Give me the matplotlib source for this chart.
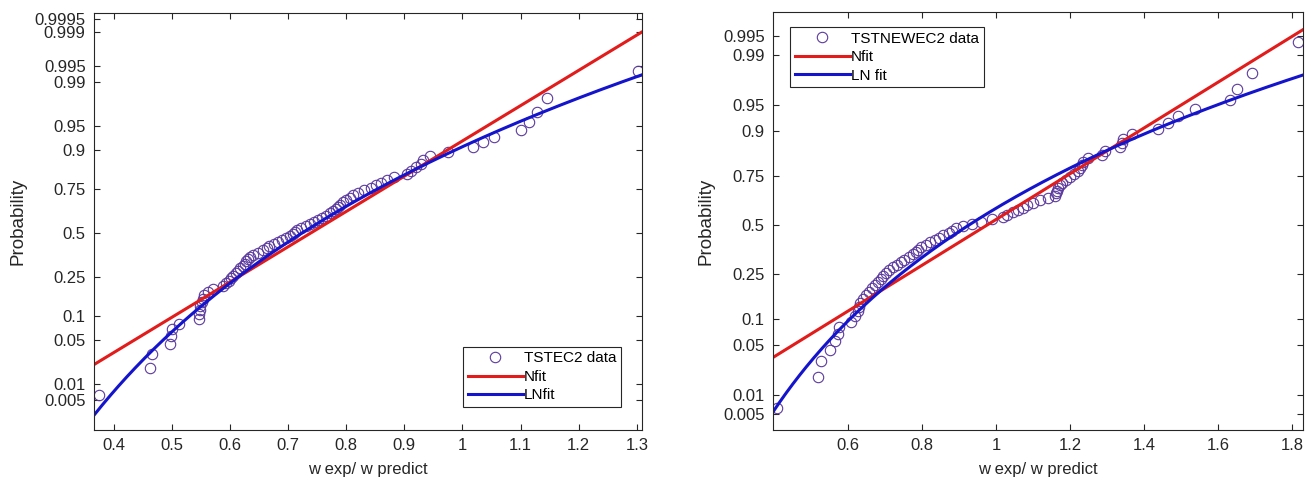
"""
정규 확률도(Normal probability plot) 두 개를 나란히 그리는 스크립트
TSTEC2 / TSTNEWEC2 데이터와 정규(Nfit), 로그정규(LN fit) 적합선을 비교합니다.
"""

from statistics import NormalDist

import numpy as np
import matplotlib
matplotlib.use('Agg')
import matplotlib.pyplot as plt


# 왼쪽 그래프: TSTEC2 데이터 (w exp / w predict, 정렬된 값)
tstec2_x = [
    0.375, 0.462, 0.466, 0.496, 0.498, 0.501, 0.512, 0.546, 0.547, 0.548,
    0.549, 0.551, 0.553, 0.556, 0.562, 0.570, 0.588, 0.594, 0.598, 0.602,
    0.606, 0.610, 0.614, 0.618, 0.622, 0.625, 0.628, 0.631, 0.634, 0.640,
    0.648, 0.656, 0.663, 0.668, 0.675, 0.683, 0.690, 0.697, 0.703, 0.708,
    0.712, 0.716, 0.722, 0.730, 0.738, 0.745, 0.752, 0.758, 0.765, 0.772,
    0.778, 0.782, 0.786, 0.790, 0.795, 0.800, 0.806, 0.812, 0.820, 0.830,
    0.842, 0.852, 0.860, 0.870, 0.882, 0.905, 0.912, 0.920, 0.928, 0.932,
    0.945, 0.975, 1.018, 1.035, 1.055, 1.100, 1.115, 1.128, 1.145, 1.302,
]
tstec2_nfit = (0.739, 0.184)      # 정규분포 (mu, sigma)
tstec2_lnfit = (-0.323, 0.243)    # 로그정규분포 (mu, sigma)

# 오른쪽 그래프: TSTNEWEC2 데이터
tstnewec2_x = [
    0.408, 0.518, 0.527, 0.552, 0.565, 0.573, 0.575, 0.608, 0.619, 0.626,
    0.630, 0.632, 0.640, 0.648, 0.657, 0.665, 0.672, 0.680, 0.688, 0.695,
    0.702, 0.712, 0.722, 0.732, 0.742, 0.752, 0.765, 0.776, 0.784, 0.790,
    0.798, 0.810, 0.822, 0.834, 0.846, 0.858, 0.872, 0.880, 0.892, 0.910,
    0.935, 0.960, 0.990, 1.019, 1.030, 1.046, 1.060, 1.073, 1.085, 1.100,
    1.120, 1.141, 1.159, 1.162, 1.165, 1.168, 1.172, 1.178, 1.190, 1.200,
    1.210, 1.222, 1.228, 1.232, 1.235, 1.250, 1.286, 1.295, 1.335, 1.341,
    1.343, 1.368, 1.438, 1.465, 1.492, 1.538, 1.632, 1.651, 1.692, 1.816,
]
tstnewec2_nfit = (0.976, 0.320)
tstnewec2_lnfit = (-0.076, 0.332)

# 축 눈금
prob_ticks = [0.005, 0.01, 0.05, 0.1, 0.25, 0.5, 0.75, 0.9, 0.95,
              0.99, 0.995, 0.999, 0.9995]
prob_tick_labels = ['0.005', '0.01', '0.05', '0.1', '0.25', '0.5', '0.75',
                    '0.9', '0.95', '0.99', '0.995', '0.999', '0.9995']
left_xticks = [0.4, 0.5, 0.6, 0.7, 0.8, 0.9, 1.0, 1.1, 1.2, 1.3]
right_xticks = [0.6, 0.8, 1.0, 1.2, 1.4, 1.6, 1.8]

MARKER_COLOR = '#5b3a9e'
RED = '#e21b1b'
BLUE = '#1414cc'
TEXT_COLOR = '#262626'
FONT = 'Liberation Sans'


def draw_probplot(ax, x_data, nfit, lnfit, data_label, ln_label,
                  xlim, zlim, xticks, legend_loc, legend_anchor):
    """
    정규 확률 좌표(z 값)에 데이터와 적합선을 그리는 함수
    """
    nd = NormalDist()
    x = np.sort(np.array(x_data))
    n = len(x)
    # 순위 기반 확률 위치 (i - 0.5) / n
    z = [nd.inv_cdf((i - 0.5) / n) for i in range(1, n + 1)]

    xs = np.linspace(xlim[0], xlim[1], 400)

    ax.plot(x, z, 'o', mfc='none', mec=MARKER_COLOR, ms=7.5, mew=0.8,
            label=data_label)
    ax.plot(xs, (xs - nfit[0]) / nfit[1], color=RED, lw=2.2, label='Nfit')
    ax.plot(xs, (np.log(xs) - lnfit[0]) / lnfit[1], color=BLUE, lw=2.2,
            label=ln_label)

    ax.set_xlim(*xlim)
    ax.set_ylim(*zlim)

    # 확률 눈금 (범위 안에 있는 것만)
    ticks, labels = [], []
    for p, lab in zip(prob_ticks, prob_tick_labels):
        zt = nd.inv_cdf(p)
        if zlim[0] <= zt <= zlim[1]:
            ticks.append(zt)
            labels.append(lab)
    ax.set_yticks(ticks)
    ax.set_yticklabels(labels)

    ax.set_xticks(xticks)
    ax.set_xticklabels(['%g' % t for t in xticks])

    ax.tick_params(direction='in', top=True, right=True, length=4,
                   width=0.8, colors=TEXT_COLOR, labelsize=12, pad=6)
    for spine in ax.spines.values():
        spine.set_color(TEXT_COLOR)
        spine.set_linewidth(0.8)

    ax.set_xlabel('w exp/ w predict', fontsize=12, color=TEXT_COLOR,
                  labelpad=6)
    ax.set_ylabel('Probability', fontsize=13.5, color=TEXT_COLOR, labelpad=6)

    leg = ax.legend(loc=legend_loc, bbox_to_anchor=legend_anchor,
                    borderaxespad=0, fancybox=False, framealpha=1,
                    edgecolor=TEXT_COLOR, fontsize=11, handlelength=3.6,
                    handletextpad=0.1, labelspacing=0.3, borderpad=0.3)
    leg.get_frame().set_linewidth(0.8)


def main():
    plt.rcParams['font.family'] = [FONT, 'DejaVu Sans']

    fig = plt.figure(figsize=(13.11, 4.84), dpi=100)
    ax1 = fig.add_axes([0.0717, 0.1116, 0.418, 0.8616])
    ax2 = fig.add_axes([0.5896, 0.1116, 0.4043, 0.8636])

    draw_probplot(ax1, tstec2_x, tstec2_nfit, tstec2_lnfit,
                  'TSTEC2 data', 'LNfit',
                  xlim=(0.366, 1.309), zlim=(-3.035, 3.39),
                  xticks=left_xticks, legend_loc='lower right',
                  legend_anchor=(0.962, 0.055))
    draw_probplot(ax2, tstnewec2_x, tstnewec2_nfit, tstnewec2_lnfit,
                  'TSTNEWEC2 data', 'LN fit',
                  xlim=(0.397, 1.83), zlim=(-2.80, 2.91),
                  xticks=right_xticks, legend_loc='upper left',
                  legend_anchor=(0.032, 0.964))

    fig.savefig('out.png', dpi=100)


if __name__ == '__main__':
    main()
